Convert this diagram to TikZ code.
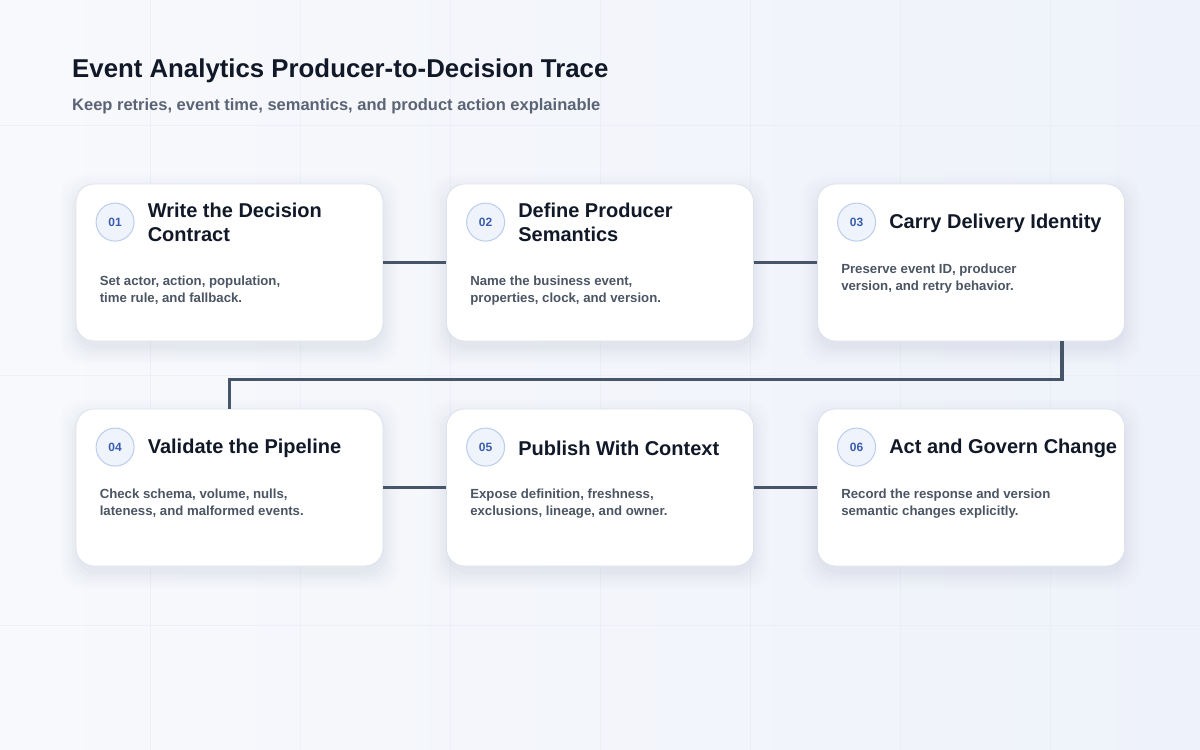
\documentclass[tikz,border=0pt]{standalone}
\usepackage{fontspec}
\setmainfont{Liberation Sans}
\usetikzlibrary{positioning,calc}
\definecolor{bgA}{HTML}{F8F9FC}
\definecolor{bgB}{HTML}{EEF2FA}
\definecolor{gridc}{HTML}{E6EAF1}
\definecolor{titlec}{HTML}{111827}
\definecolor{subc}{HTML}{5B6474}
\definecolor{bodyc}{HTML}{4B5563}
\definecolor{numc}{HTML}{3B5DAE}
\definecolor{circf}{HTML}{EEF3FC}
\definecolor{circd}{HTML}{BCCDEB}
\definecolor{cardd}{HTML}{DCE2EC}
\definecolor{linkc}{HTML}{475569}
\definecolor{shadc}{HTML}{8A96B4}
\tikzset{
  card/.style={draw=cardd, line width=0.8pt, fill=white, rounded corners=18pt, minimum width=307pt, minimum height=157pt, inner sep=0pt},
  numcirc/.style={circle, draw=circd, line width=1pt, fill=circf, minimum size=38pt, inner sep=0pt, font=\fontsize{12}{14}\selectfont\bfseries, text=numc},
  ctitle/.style={anchor=west, align=left, font=\fontsize{20}{24}\selectfont\bfseries, text=titlec, inner sep=0pt},
  cbody/.style={anchor=north west, align=left, font=\fontsize{13.2}{17}\selectfont\bfseries, text=bodyc, inner sep=0pt},
  link/.style={draw=linkc, line width=3.8pt},
}
\newcommand{\cardshadow}[1]{%
  \foreach \s/\o in {16/0.012,13/0.016,10/0.02,7/0.025,4/0.03,1/0.04}{
    \fill[shadc, opacity=\o, rounded corners=22pt] ($(#1)+(-153.5-\s,-78.5-\s+7)$) rectangle ($(#1)+(153.5+\s,78.5+\s+7)$);
  }%
}
\begin{document}
\begin{tikzpicture}[x=1pt,y=-1pt]
\useasboundingbox (0,0) rectangle (1200,750);
\shade[left color=bgA, right color=bgB] (0,0) rectangle (1200,750);
\foreach \gx in {150,300,...,1050} \draw[gridc, line width=0.6pt, opacity=0.5] (\gx,0) -- (\gx,750);
\foreach \gy in {125,375,625} \draw[gridc, line width=0.6pt, opacity=0.5] (0,\gy) -- (1200,\gy);

\node[anchor=base west, inner sep=0pt, font=\fontsize{25.8}{30}\selectfont\bfseries, text=titlec] (title) at (72,77) {Event Analytics Producer-to-Decision Trace};
\node[anchor=base west, inner sep=0pt, font=\fontsize{16.5}{20}\selectfont\bfseries, text=subc] (subtitle) at (72,110) {Keep retries, event time, semantics, and product action explainable};

% shadows
\foreach \cx/\cy in {229.5/262.5,600/262.5,971/262.5,229.5/487.5,600/487.5,971/487.5}{
  \cardshadow{\cx,\cy}
}

\node[card] (c1) at (229.5,262.5) {};
\node[card] (c2) at (600,262.5) {};
\node[card] (c3) at (971,262.5) {};
\node[card] (c4) at (229.5,487.5) {};
\node[card] (c5) at (600,487.5) {};
\node[card] (c6) at (971,487.5) {};

% connectors
\draw[link] (c1.east) -- (c2.west);
\draw[link] (c2.east) -- (c3.west);
\draw[link] ([xshift=91pt]c3.south) -- ++(0,38) -| (c4.north);
\draw[link] (c4.east) -- (c5.west);
\draw[link] (c5.east) -- (c6.west);

% card contents
\foreach \c/\n in {c1/01,c2/02,c3/03,c4/04,c5/05,c6/06}{
  \node[numcirc] (n\c) at ($(\c.north west)+(39.5,38.5)$) {\n};
}
\node[ctitle] (t1) at ($(c1.north west)+(72,39)$) {Write the Decision\\Contract};
\node[ctitle] (t2) at ($(c2.north west)+(72,39)$) {Define Producer\\Semantics};
\node[ctitle] (t3) at ($(c3.north west)+(72,40)$) {Carry Delivery Identity};
\node[ctitle] (t4) at ($(c4.north west)+(72,40)$) {Validate the Pipeline};
\node[ctitle] (t5) at ($(c5.north west)+(72,40)$) {Publish With Context};
\node[ctitle] (t6) at ($(c6.north west)+(72,40)$) {Act and Govern Change};

\node[cbody] (b1) at ($(c1.north west)+(24,92)$) {Set actor, action, population,\\time rule, and fallback.};
\node[cbody] (b2) at ($(c2.north west)+(24,92)$) {Name the business event,\\properties, clock, and version.};
\node[cbody] (b3) at ($(c3.north west)+(24,80)$) {Preserve event ID, producer\\version, and retry behavior.};
\node[cbody] (b4) at ($(c4.north west)+(24,80)$) {Check schema, volume, nulls,\\lateness, and malformed events.};
\node[cbody] (b5) at ($(c5.north west)+(24,80)$) {Expose definition, freshness,\\exclusions, lineage, and owner.};
\node[cbody] (b6) at ($(c6.north west)+(24,80)$) {Record the response and version\\semantic changes explicitly.};
\end{tikzpicture}
\end{document}
